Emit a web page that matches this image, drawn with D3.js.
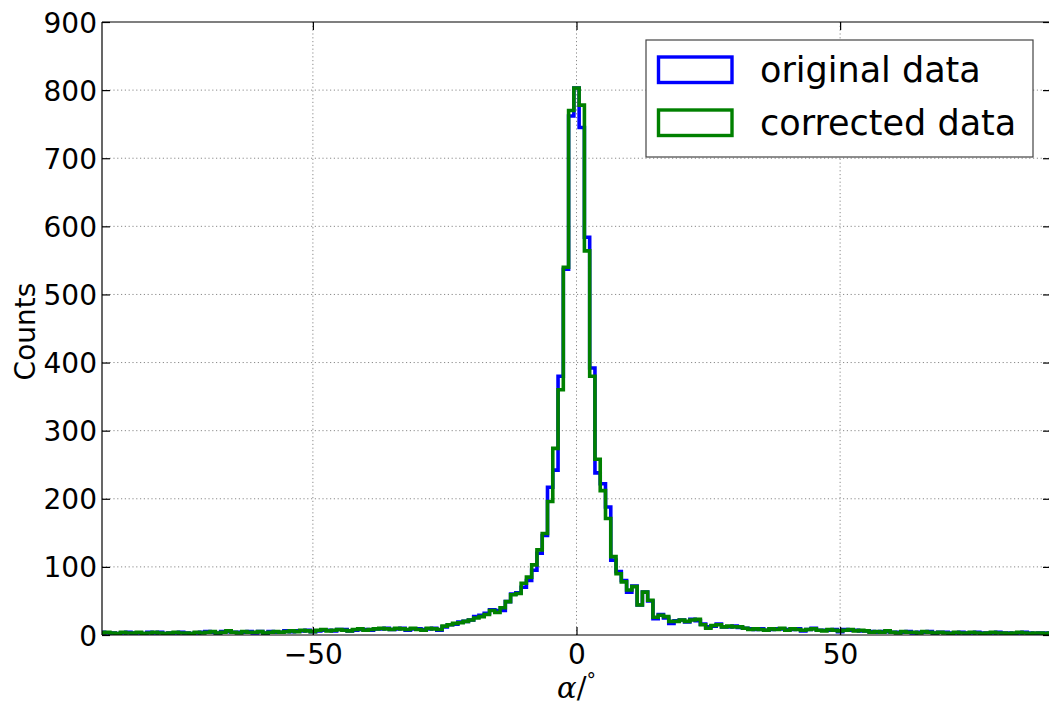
<!DOCTYPE html>
<html>
<head>
<meta charset="utf-8">
<script src="https://cdn.jsdelivr.net/npm/d3@7"></script>
<style>
  html, body { margin: 0; padding: 0; background: #fff; }
  svg { display: block; }
  text { font-family: "DejaVu Sans", sans-serif; fill: #000; }
</style>
</head>
<body>
<svg id="chart" width="1049" height="704"></svg>
<script>
// Histogram of the angle alpha (degrees), 1-degree bins centred on -90 ... 90
const binCenters = d3.range(-90, 91);
const binWidth = 1;

const originalCounts = [
  // -90 .. -71
  4,3,3,2,3,4,3,3,2,4,3,4,2,3,3,4,3,2,3,4,
  // -70 .. -55
  5,4,3,5,5,4,4,4,5,3,5,3,5,4,4,6,
  // -54 .. -38
  5,6,6,7,5,6,7,7,6,8,8,6,7,8,8,7,9,
  // -37 .. -26
  9,10,8,9,10,7,9,9,8,9,10,7,
  // -25 .. -15
  12,15,16,19,20,22,27,29,32,37,36,
  // -14 .. -5
  36,49,60,62,70,80,95,120,146,217,
  // -4 .. 4
  242,380,537,762,803,745,584,392,238,
  // 5 .. 15
  222,188,110,93,80,63,72,44,63,50,24,
  // 16 .. 36
  30,25,17,21,22,19,23,21,16,12,13,16,12,12,13,11,10,9,8,9,7,
  // 37 .. 55
  8,9,9,8,8,9,6,8,10,7,7,7,8,5,8,7,7,6,6,
  // 56 .. 90
  5,4,5,5,4,4,4,5,3,4,4,5,3,4,4,3,3,4,3,3,4,3,3,3,4,3,3,2,3,4,3,2,3,3,2
];

const correctedCounts = [
  // -90 .. -71
  3,4,3,2,4,3,3,4,2,3,4,3,2,3,4,3,3,2,4,3,
  // -70 .. -55
  4,5,3,4,6,4,3,5,4,4,5,3,4,5,4,5,
  // -54 .. -38
  6,5,7,6,5,7,8,6,7,8,7,6,8,9,7,8,9,
  // -37 .. -26
  10,9,8,10,9,8,10,8,7,10,9,8,
  // -25 .. -15
  13,15,17,18,20,22,25,27,30,36,33,
  // -14 .. -5
  40,49,59,61,76,85,103,125,149,196,
  // -4 .. 4
  274,360,540,770,803,778,564,380,258,
  // 5 .. 15
  212,171,115,90,78,66,71,44,63,51,26,
  // 16 .. 36
  29,27,20,20,22,20,22,23,15,10,14,15,12,13,12,12,10,8,9,8,7,
  // 37 .. 55
  9,8,10,7,9,8,7,8,9,7,6,8,7,6,7,8,6,7,6,
  // 56 .. 90
  4,5,4,6,4,3,5,4,4,3,5,4,3,4,3,2,4,3,3,4,3,2,3,4,3,3,2,3,4,3,2,3,3,2,3
];

const seriesNames = ["original data", "corrected data"];
const seriesColors = ["#0000ff", "#008000"];
const xTicks = [-50, 0, 50];
const yTicks = [0, 100, 200, 300, 400, 500, 600, 700, 800, 900];

const svg = d3.select("#chart");
const margin = { left: 102, top: 22, right: 1051, bottom: 635 };

const x = d3.scaleLinear().domain([-90, 90]).range([margin.left, margin.right]);
const y = d3.scaleLinear().domain([0, 900]).range([margin.bottom, margin.top]);

svg.append("defs").append("clipPath").attr("id", "plotClip")
  .append("rect")
  .attr("x", margin.left).attr("y", margin.top)
  .attr("width", margin.right - margin.left)
  .attr("height", margin.bottom - margin.top);

// dotted grid
const grid = svg.append("g");
grid.selectAll("line.gx").data(xTicks).join("line")
  .attr("x1", d => x(d)).attr("x2", d => x(d))
  .attr("y1", margin.top).attr("y2", margin.bottom)
  .attr("stroke", "#8a8a8a").attr("stroke-width", 1)
  .attr("stroke-dasharray", "1.2,2.6");
grid.selectAll("line.gy").data(yTicks.filter(d => d > 0 && d < 900)).join("line")
  .attr("x1", margin.left).attr("x2", margin.right)
  .attr("y1", d => y(d)).attr("y2", d => y(d))
  .attr("stroke", "#8a8a8a").attr("stroke-width", 1)
  .attr("stroke-dasharray", "1.2,2.6");

// step outlines of the histograms
function stepPoints(counts) {
  const pts = [];
  const first = binCenters[0] - binWidth / 2;
  pts.push([first, 0]);
  counts.forEach((c, i) => {
    const lo = binCenters[i] - binWidth / 2;
    const hi = binCenters[i] + binWidth / 2;
    pts.push([lo, c]);
    pts.push([hi, c]);
  });
  pts.push([binCenters[binCenters.length - 1] + binWidth / 2, 0]);
  return pts;
}

const line = d3.line().x(d => x(d[0])).y(d => y(d[1]));
const plot = svg.append("g").attr("clip-path", "url(#plotClip)");
[originalCounts, correctedCounts].forEach((counts, k) => {
  plot.append("path")
    .attr("d", line(stepPoints(counts)))
    .attr("fill", "none")
    .attr("stroke", seriesColors[k])
    .attr("stroke-width", 3.6)
    .attr("stroke-linejoin", "miter");
});

// spines
const frame = svg.append("g").attr("stroke", "#000").attr("stroke-width", 1.2).attr("fill", "none");
frame.append("line").attr("x1", margin.left).attr("x2", margin.left).attr("y1", margin.top).attr("y2", margin.bottom);
frame.append("line").attr("x1", margin.left).attr("x2", margin.right).attr("y1", margin.top).attr("y2", margin.top);
frame.append("line").attr("x1", margin.left).attr("x2", margin.right).attr("y1", margin.bottom).attr("y2", margin.bottom);
frame.append("line").attr("x1", margin.right).attr("x2", margin.right).attr("y1", margin.top).attr("y2", margin.bottom);

// axes with inward ticks
const tickLen = 8;
const yAxis = d3.axisLeft(y).tickValues(yTicks).tickSize(-tickLen).tickPadding(5).tickFormat(d3.format("d"));
const yG = svg.append("g").attr("transform", `translate(${margin.left},0)`).call(yAxis);
const xAxis = d3.axisBottom(x).tickValues(xTicks).tickSize(-tickLen).tickPadding(9)
  .tickFormat(d => d < 0 ? "\u2212" + Math.abs(d) : String(d));
const xG = svg.append("g").attr("transform", `translate(0,${margin.bottom})`).call(xAxis);
const xTop = svg.append("g").attr("transform", `translate(0,${margin.top})`)
  .call(d3.axisTop(x).tickValues(xTicks).tickSize(-tickLen).tickFormat(""));
const yRight = svg.append("g").attr("transform", `translate(${margin.right},0)`)
  .call(d3.axisRight(y).tickValues(yTicks).tickSize(-tickLen).tickFormat(""));

[yG, xG, xTop, yRight].forEach(g => {
  g.select(".domain").remove();
  g.selectAll(".tick line").attr("stroke", "#000").attr("stroke-width", 1.2);
  g.selectAll(".tick text").style("font-family", "'DejaVu Sans', sans-serif")
    .style("font-size", "28px").attr("fill", "#000");
});
yG.selectAll(".tick text").attr("dy", "0.36em");
xG.selectAll(".tick text").attr("dy", "0.72em");

// axis titles
svg.append("text")
  .attr("transform", `translate(35,${(margin.top + margin.bottom) / 2 + 3}) rotate(-90)`)
  .attr("text-anchor", "middle")
  .style("font-size", "28px")
  .text("Counts");

const xTitle = svg.append("text")
  .attr("x", x(0)).attr("y", 698)
  .attr("text-anchor", "middle")
  .style("font-family", "'DejaVu Serif', 'Liberation Serif', serif")
  .style("font-size", "29px");
xTitle.append("tspan").style("font-style", "italic").text("\u03b1");
xTitle.append("tspan").text("/");
xTitle.append("tspan").attr("dy", "-12").style("font-size", "19px").text("\u00b0");

// legend
const legend = svg.append("g");
legend.append("rect")
  .attr("x", 646).attr("y", 40).attr("width", 387).attr("height", 117)
  .attr("fill", "#fff").attr("stroke", "#444").attr("stroke-width", 1.2);
seriesNames.forEach((name, k) => {
  const row = legend.append("g").attr("transform", `translate(0,${k * 53})`);
  row.append("rect")
    .attr("x", 658.5).attr("y", 57).attr("width", 73.5).attr("height", 25.5)
    .attr("fill", "none").attr("stroke", seriesColors[k]).attr("stroke-width", 3.4);
  row.append("text")
    .attr("x", 760).attr("y", 82)
    .style("font-size", "35px")
    .text(name);
});
</script>
</body>
</html>
